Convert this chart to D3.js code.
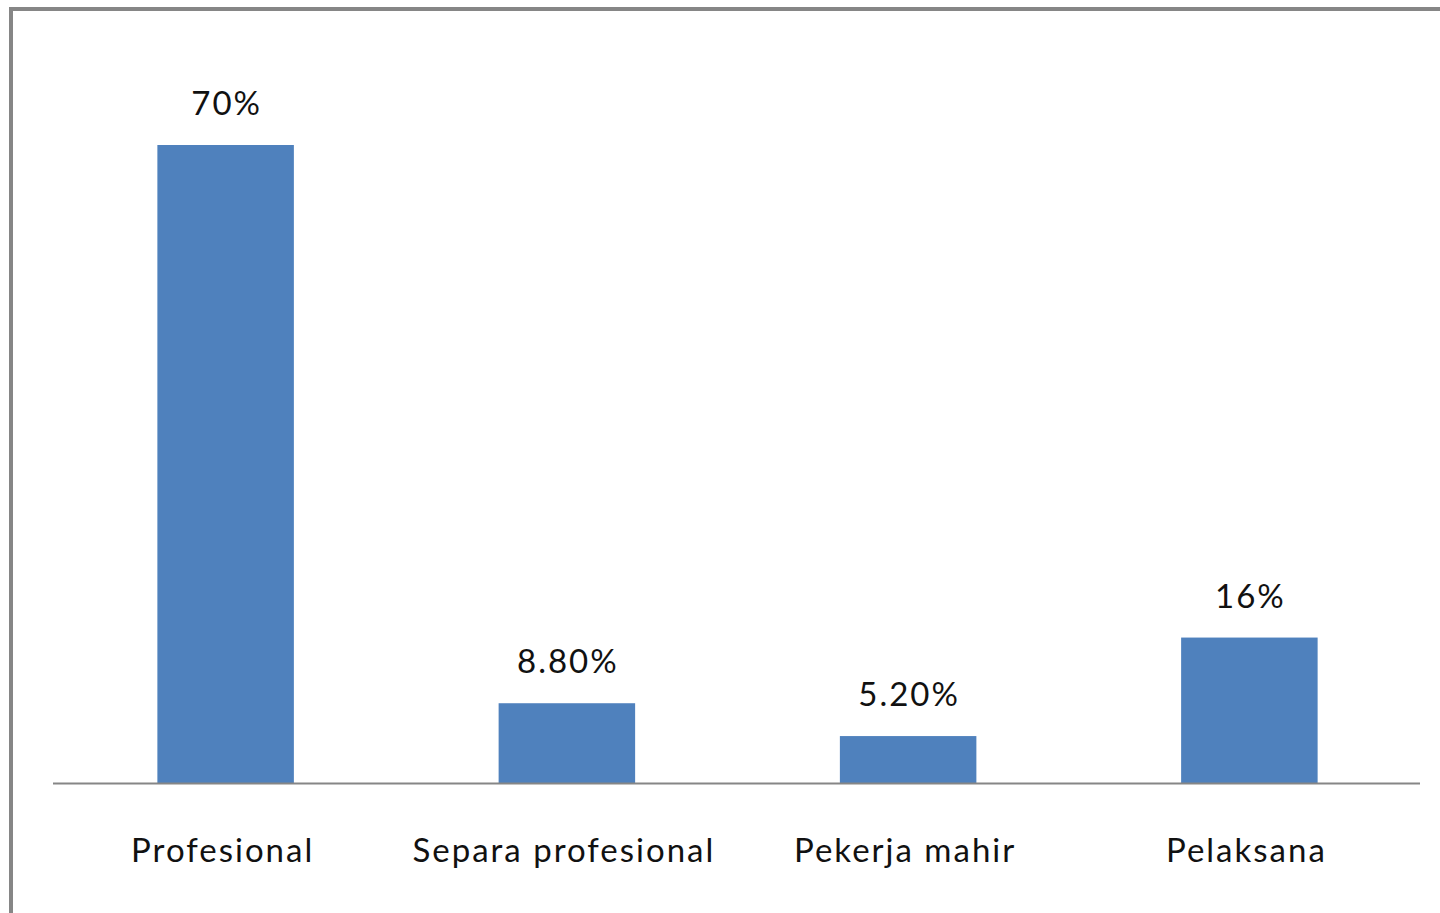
<!DOCTYPE html>
<html lang="en">
<head>
<meta charset="utf-8">
<title>Bar chart</title>
<script src="https://cdn.jsdelivr.net/npm/d3@7"></script>
<style>
  body { margin: 0; background: #fff; }
  .lbl { font-family: Lato, "Open Sans", sans-serif; font-size: 33px; fill: #111; letter-spacing: 2px; }
</style>
</head>
<body>
<script>
var categories = ["Profesional", "Separa profesional", "Pekerja mahir", "Pelaksana"];
var values = [70, 8.8, 5.2, 16];
var valueLabels = ["70%", "8.80%", "5.20%", "16%"];

var w = 1440, h = 913;
var left = 55, right = 1420, base = 783.5;

var svg = d3.select("body").append("svg")
    .attr("width", w)
    .attr("height", h);

// chart frame (only top and left edges visible)
svg.append("path")
    .attr("d", "M11,913 V9 H1440")
    .attr("fill", "none")
    .attr("stroke", "#868686")
    .attr("stroke-width", 4);

var xScale = d3.scaleBand()
    .domain(categories)
    .range([left, right])
    .paddingInner(0.6)
    .paddingOuter(0.3);

var yScale = d3.scaleLinear()
    .domain([0, 80])
    .range([base, base - 80 * 638.5 / 70]);

svg.selectAll("rect.bar")
    .data(values)
    .enter()
    .append("rect")
    .attr("class", "bar")
    .attr("x", function(d, i) { return xScale(categories[i]); })
    .attr("y", function(d) { return yScale(d); })
    .attr("width", xScale.bandwidth())
    .attr("height", function(d) { return yScale(0) - yScale(d); })
    .attr("fill", "#4F81BD");

// baseline
svg.append("line")
    .attr("x1", 53).attr("x2", right)
    .attr("y1", base).attr("y2", base)
    .attr("stroke", "#868686")
    .attr("stroke-width", 2);

// value labels
svg.selectAll("text.val")
    .data(values)
    .enter()
    .append("text")
    .attr("class", "lbl val")
    .attr("text-anchor", "middle")
    .attr("x", function(d, i) { return xScale(categories[i]) + xScale.bandwidth() / 2 + 1; })
    .attr("y", function(d) { return yScale(d) - 30; })
    .text(function(d, i) { return valueLabels[i]; });

// category labels
svg.selectAll("text.cat")
    .data(categories)
    .enter()
    .append("text")
    .attr("class", "lbl cat")
    .attr("text-anchor", "middle")
    .attr("x", function(d) { return xScale(d) + xScale.bandwidth() / 2 - 3; })
    .attr("y", 862)
    .text(function(d) { return d; });
</script>
</body>
</html>
